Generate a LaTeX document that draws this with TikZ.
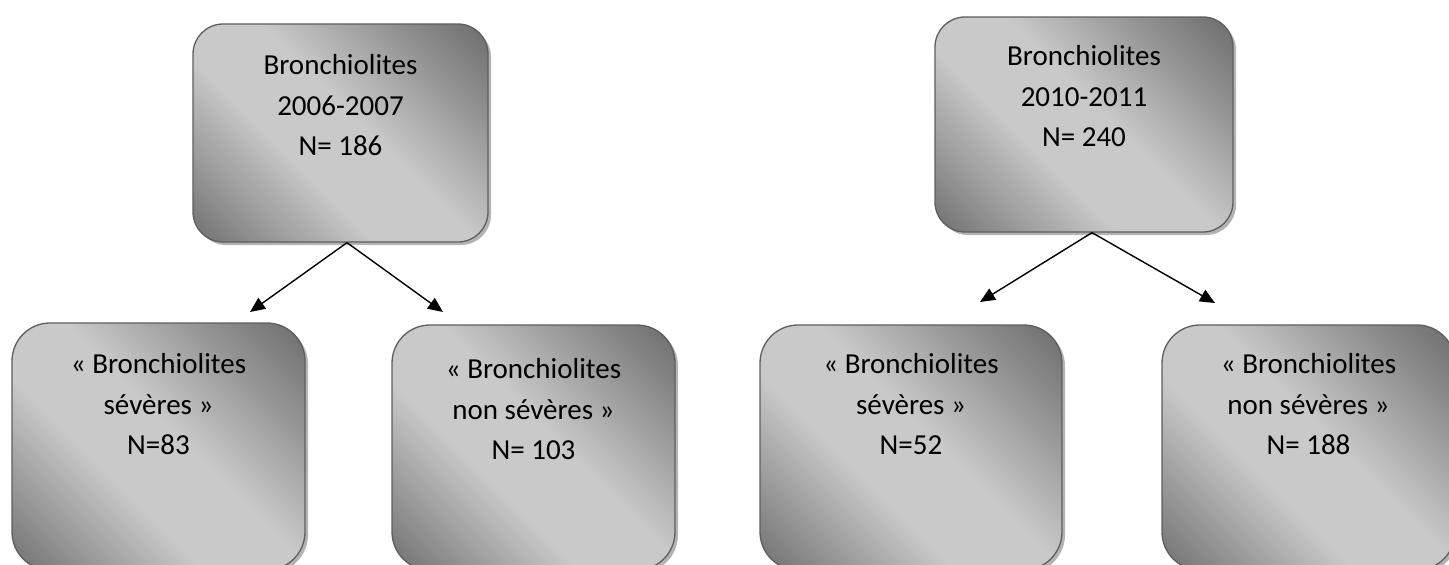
\documentclass[tikz,border=0pt]{standalone}
\usepackage{fontspec}
\setmainfont{Carlito}
\usetikzlibrary{arrows.meta,shadows,calc}
\definecolor{boxline}{HTML}{5E5E5E}
\definecolor{shadowgray}{HTML}{B4B4B4}
\pgfdeclareverticalshading{boxshade}{100bp}{%
  color(0bp)=(black!62); color(14bp)=(black!57); color(40bp)=(black!21);
  color(54bp)=(black!21); color(74bp)=(black!45); color(92bp)=(black!65);
  color(100bp)=(black!68)}
\begin{document}
\begin{tikzpicture}[x=1pt,y=-1pt,
  gbox/.style={draw=boxline, line width=1.3pt, rounded corners=#1,
    shading=boxshade, shading angle=-45,
    drop shadow={shadow xshift=3pt, shadow yshift=-3pt, fill=shadowgray, opacity=1}},
  gbox/.default=30pt,
  txt/.style={font=\fontsize{29}{40.5}\selectfont, align=center, inner sep=0pt, anchor=north},
  arr/.style={line width=1.4pt, -{Triangle[length=15pt,width=13pt]}}]
\useasboundingbox (0,0) rectangle (1449,565);
% top boxes
\node[gbox, minimum width=295pt, minimum height=218pt] (a) at (340.5,133) {};
\node[gbox, minimum width=298pt, minimum height=215pt] (b) at (1084,124.5) {};
% bottom boxes
\node[gbox=38pt, minimum width=293pt, minimum height=247pt] (c) at (158.5,446.5) {};
\node[gbox=38pt, minimum width=283pt, minimum height=245pt] (d) at (533.5,447.5) {};
\node[gbox=38pt, minimum width=302pt, minimum height=245pt] (e) at (911,447.5) {};
\node[gbox=38pt, minimum width=293pt, minimum height=245pt] (f) at (1308.5,447.5) {};
% texts
\node[txt] (ta) at ($(a.north)+(0,31)$) {Bronchiolites\\2006-2007\\N= 186};
\node[txt] (tb) at ($(b.north)+(0,29)$) {Bronchiolites\\2010-2011\\N= 240};
\node[txt] (tc) at ($(c.north)+(0,31)$) {« Bronchiolites\\sévères »\\N=83};
\node[txt] (td) at ($(d.north)+(0,34)$) {« Bronchiolites\\non sévères »\\N= 103};
\node[txt] (te) at ($(e.north)+(0,29)$) {« Bronchiolites\\sévères »\\N=52};
\node[txt] (tf) at ($(f.north)+(0,29)$) {« Bronchiolites\\non sévères »\\N= 188};
% arrow tips
\coordinate (ac) at (250,312);
\coordinate (ad) at (443,312);
\coordinate (be) at (980,302);
\coordinate (bf) at (1215,303);
\draw[arr] ([xshift=6.5pt]a.south) -- (ac);
\draw[arr] ([xshift=6.5pt]a.south) -- (ad);
\draw[arr] ([xshift=8pt]b.south) -- (be);
\draw[arr] ([xshift=8pt]b.south) -- (bf);
\end{tikzpicture}
\end{document}
